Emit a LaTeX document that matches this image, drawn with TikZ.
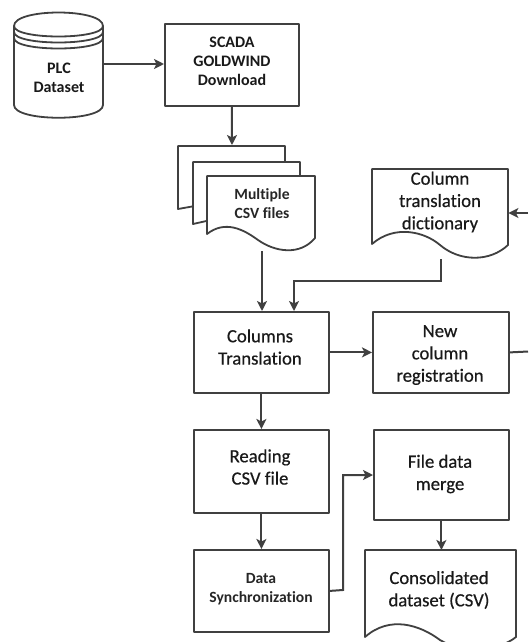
\documentclass[tikz,border=0pt]{standalone}
\usepackage{fontspec}
\setmainfont{Carlito}[Ligatures=NoCommon]
\newfontfamily\medfont{Carlito}[Ligatures=NoCommon,FakeBold=0.5]
\usetikzlibrary{arrows.meta}
\definecolor{ink}{HTML}{404040}
\tikzset{
  x=1pt,y=-1pt,
  shp/.style={draw=ink,line width=1.8pt,fill=white,line join=round},
  box/.style={shp,rectangle,inner sep=0pt,anchor=north west},
  anchorbox/.style={rectangle,inner sep=0pt,anchor=north west},
  con/.style={draw=ink,line width=2pt},
  arr/.style={con,-{Stealth[length=10pt,width=10pt,inset=2.5pt]}},
  big/.style={align=center,inner sep=0pt,font=\fontsize{18.7}{22.3}\medfont,text=black!90},
  mid/.style={align=center,inner sep=0pt,font=\fontsize{16}{19}\selectfont\bfseries,text=black!90},
  small/.style={align=center,inner sep=0pt,font=\fontsize{15.6}{19}\selectfont\bfseries,text=black!85},
}
\begin{document}
\begin{tikzpicture}
\useasboundingbox[fill=white] (0,0) rectangle (528,642);
% cylinder
\path[shp] (14,26) .. controls (14,8) and (103,8) .. (103,26) -- (103,105) .. controls (103,122) and (14,122) .. (14,105) -- cycle;
\draw[shp,fill=none] (14,26) .. controls (14,40) and (103,40) .. (103,26);
\draw[shp,fill=none] (14,32) .. controls (14,46) and (103,46) .. (103,32);
\draw[shp,fill=none] (14,38) .. controls (14,52) and (103,52) .. (103,38);
\node[anchorbox,minimum width=89pt,minimum height=105pt] (plc) at (14,13) {};
\node[mid] (plct) at (59,78) {PLC\\Dataset};
% boxes
\node[box,minimum width=134pt,minimum height=82pt] (scada) at (164,23) {};
\node[mid] (scadat) at (232,61) {SCADA\\GOLDWIND\\Download};
% documents
\path[shp] (178,146) -- (285,146) -- (285,190) -- (178,209) -- cycle;
\path[shp] (193,162) -- (300,162) -- (300,200) -- (193,224) -- cycle;
\path[shp] (207,176) -- (315,176) -- (315,238) .. controls (300,256) and (275,252) .. (258,240) .. controls (243,229) and (225,220) .. (207,234) -- cycle;
\node[anchorbox,minimum width=137pt,minimum height=105pt] (csv) at (178,146) {};
\node[small] (csvt) at (262,204) {Multiple\\CSV files};
\path[shp] (372,169) -- (508,169) -- (508,245) .. controls (490,262) and (460,262) .. (440,245) .. controls (425,232) and (395,224) .. (372,244) -- cycle;
\node[anchorbox,minimum width=136pt,minimum height=89pt] (dict) at (372,169) {};
\node[big] (dictt) at (440,202) {Column\\translation\\dictionary};
\node[box,minimum width=135pt,minimum height=81pt] (cols) at (193,311) {};
\node[big] (colst) at (260,347) {Columns\\Translation};
\node[box,minimum width=136pt,minimum height=81pt] (newc) at (372,311) {};
\node[big] (newct) at (440,355) {New\\column\\registration};
\node[box,minimum width=135pt,minimum height=83pt] (read) at (193,429) {};
\node[big] (readt) at (260,467) {Reading\\CSV file};
\node[box,minimum width=135pt,minimum height=82pt] (sync) at (193,549) {};
\node[small] (synct) at (261,589) {Data\\Synchronization};
\node[box,minimum width=135pt,minimum height=90pt] (merge) at (373,429) {};
\node[big] (merget) at (440,474) {File data\\merge};
\begin{scope}
\clip (360,540) rectangle (528,642);
\path[shp] (365,550) -- (516,550) -- (516,637) .. controls (500,650) and (465,655) .. (440,640) .. controls (420,625) and (390,615) .. (365,637) -- cycle;
\end{scope}
\node[anchorbox,minimum width=151pt,minimum height=92pt] (cons) at (365,550) {};
\node[big] (const) at (439,590) {Consolidated\\dataset (CSV)};
% free ends
\coordinate (rt) at (528,213);
\coordinate (rb) at (528,351.5);
\coordinate (dictout) at (441,259);
\coordinate (csvout) at (262,251);
% connectors
\draw[arr] (plc.east |- 0,64) -- (scada.west |- 0,64);
\draw[arr] (scada.south) -- (232,145);
\draw[arr] (csvout) -- (csvout |- cols.north);
\draw[arr] (dictout) |- (294,280.5) -- (294,311);
\draw[arr] (cols.east) -- (newc.west);
\draw[con] (newc.east) -- (rb);
\draw[arr] (rt) -- (dict.east |- rt);
\draw[arr] (cols.south) -- (read.north);
\draw[arr] (read.south) -- (sync.north);
\draw[arr] (sync.east) -- (343,590) |- (merge.west |- 0,475);
\draw[arr] (merge.south) -- (cons.north -| merge.south);
\end{tikzpicture}
\end{document}
